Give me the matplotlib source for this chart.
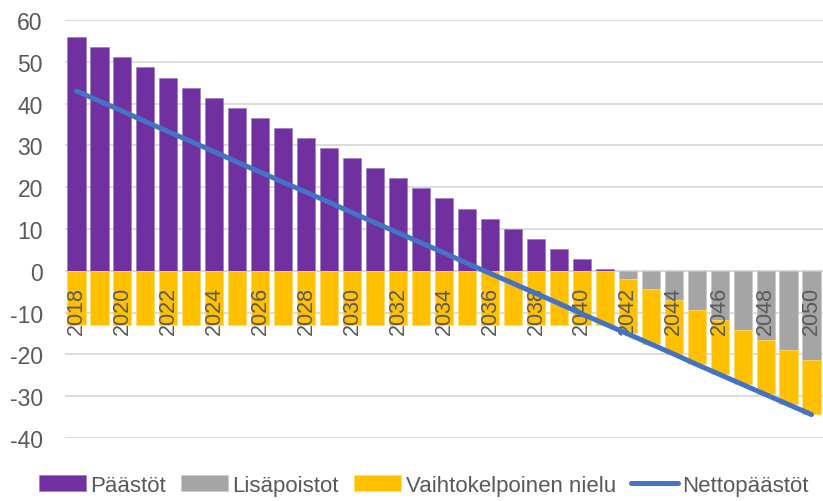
import numpy as np
import matplotlib.pyplot as plt

# Data
years = list(range(2018, 2051))
paastot = [56.0, 53.5, 51.1, 48.7, 46.2, 43.8, 41.4, 39.0, 36.6, 34.2, 31.8,
           29.4, 26.9, 24.5, 22.1, 19.7, 17.3, 14.8, 12.5, 10.0, 7.6, 5.2, 2.8,
           0.5, 0, 0, 0, 0, 0, 0, 0, 0, 0]
lisapoistot = [0] * 24 + [1.9, 4.4, 6.9, 9.4, 11.8, 14.1, 16.5, 18.9, 21.3]
nielu = [13.0] * 33
netto = [43.0, 40.6, 38.2, 35.7, 33.3, 30.9, 28.5, 26.0, 23.6, 21.2, 18.8,
         16.4, 13.9, 11.5, 9.1, 6.7, 4.3, 1.8, -0.6, -3.0, -5.4, -7.8, -10.3,
         -12.7, -15.1, -17.5, -19.9, -22.4, -24.8, -27.2, -29.6, -32.0, -34.4]

TXT = '#595959'
plt.rcParams['font.family'] = ['Liberation Sans', 'DejaVu Sans']
plt.rcParams['axes.unicode_minus'] = False

fig = plt.figure(figsize=(8.23, 5.02), dpi=100)
ax = fig.add_axes([65 / 823, 1 - 439 / 502, 1 - 65 / 823, (439 - 21) / 502])

x = np.arange(len(years))
w = 0.79
grey = -np.array(lisapoistot)
yel = -np.array(nielu)
b1 = ax.bar(x, paastot, w, color='#7030A0', label='Päästöt', zorder=2,
            edgecolor='#a07cc0', linewidth=0.5)
b2 = ax.bar(x, grey, w, color='#A5A5A5', label='Lisäpoistot', zorder=2,
            edgecolor='#c8c8c8', linewidth=0.5)
b3 = ax.bar(x, yel, w, bottom=grey, color='#FFC000',
            label='Vaihtokelpoinen nielu', zorder=2,
            edgecolor='#ffd966', linewidth=0.5)
ln, = ax.plot(x, netto, color='#4472C4', lw=3.6, solid_capstyle='round',
              label='Nettopäästöt', zorder=4)

ax.set_xlim(-0.5, len(years) - 0.5)
ax.set_ylim(-40, 60)
ax.set_yticks(range(-40, 61, 10))
ax.yaxis.grid(True, color='#d9d9d9', lw=1.3, zorder=0)
ax.set_axisbelow(True)
ax.axhline(0, color='#d9d9d9', lw=1.3, zorder=1)
for s in ax.spines.values():
    s.set_visible(False)
ax.set_xticks([])
ax.tick_params(axis='y', length=0, pad=16, labelsize=16.5, labelcolor=TXT)

for i, yr in enumerate(years):
    if yr % 2 == 0:
        ax.annotate(str(yr), (i, 0), xytext=(0, -11), textcoords='offset points',
                    rotation=90, ha='center', va='top', fontsize=15.5,
                    color=TXT, zorder=3)

fig.legend(handles=[b1, b2, b3, ln], loc='lower center',
           bbox_to_anchor=(0.515, -0.03), ncol=4, frameon=False,
           prop={'size': 16}, labelcolor=TXT, handlelength=2.1,
           handleheight=0.75, handletextpad=0.2, columnspacing=0.7)

fig.savefig('out.png', dpi=100)
